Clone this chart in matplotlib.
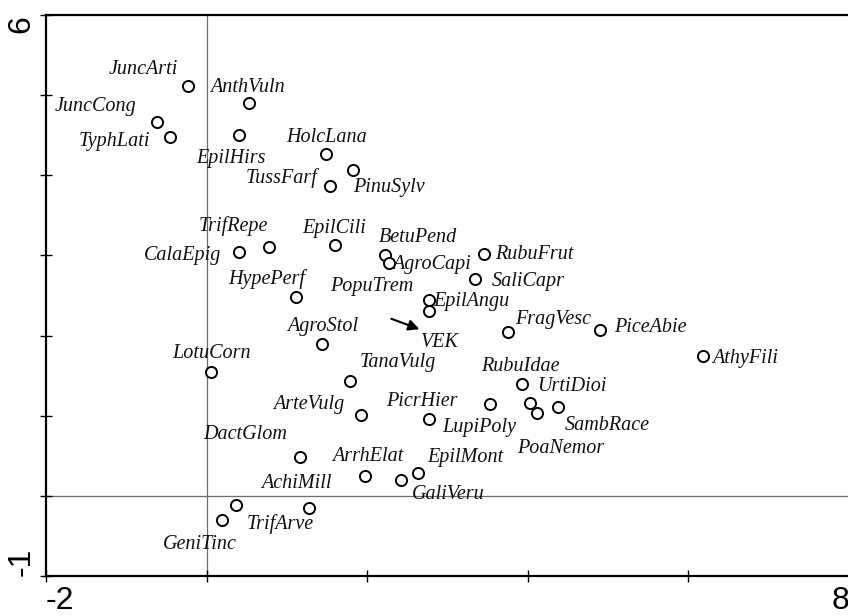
import matplotlib
matplotlib.use("Agg")
import matplotlib.pyplot as plt

# ---- data (species scores) ----
species = ["JuncArti", "AnthVuln", "JuncCong", "TyphLati", "EpilHirs", "HolcLana",
           "PinuSylv", "TussFarf", "TrifRepe", "CalaEpig", "EpilCili", "BetuPend",
           "AgroCapi", "RubuFrut", "SaliCapr", "HypePerf", "PopuTrem", "EpilAngu",
           "FragVesc", "PiceAbie", "AthyFili", "AgroStol", "LotuCorn", "TanaVulg",
           "RubuIdae", "UrtiDioi", "PicrHier", "ArteVulg", "LupiPoly", "SambRace",
           "PoaNemor", "DactGlom", "ArrhElat", "EpilMont", "AchiMill", "GaliVeru",
           "TrifArve", "GeniTinc"]
x_scores = [-0.233, 0.523, -0.619, -0.452, 0.399, 1.482,
            1.822, 1.532, 0.772, 0.399, 1.594, 2.225,
            2.270, 3.450, 3.346, 1.117, 2.768, 2.768,
            3.752, 4.903, 6.181, 1.441, 0.059, 1.781,
            3.932, 4.022, 3.524, 1.918, 2.765, 4.375,
            4.113, 1.158, 1.968, 2.631, 1.270, 2.425,
            0.361, 0.196]
y_scores = [5.12, 4.90, 4.67, 4.48, 4.50, 4.26,
            4.06, 3.87, 3.10, 3.04, 3.13, 3.01,
            2.91, 3.02, 2.71, 2.48, 2.45, 2.31,
            2.04, 2.07, 1.74, 1.90, 1.55, 1.43,
            1.39, 1.16, 1.15, 1.01, 0.96, 1.11,
            1.04, 0.49, 0.25, 0.28, -0.15, 0.20,
            -0.12, -0.30]

# environmental variable arrow
env_name = "VEK"
env_start = (2.30, 2.21)
env_end = (2.65, 2.08)

x_ticks = [-2, 0, 2, 4, 6, 8]
x_ticklabels = ["-2", "", "", "", "", "8"]
y_ticks = [-1, 0, 1, 2, 3, 4, 5, 6]
y_ticklabels = ["-1", "", "", "", "", "", "", "6"]

# ---- label layout (alignment, offset in pixels) ----
label_layout = {
    "JuncArti": ("right", -10, 16), "AnthVuln": ("left", -38, 16),
    "JuncCong": ("right", -20, 15), "TyphLati": ("right", -20, -5),
    "EpilHirs": ("left", -42, -23), "HolcLana": ("center", 1, 17),
    "PinuSylv": ("left", 0, -17), "TussFarf": ("right", -12, 8),
    "TrifRepe": ("center", -35, 21), "CalaEpig": ("right", -17, -3),
    "EpilCili": ("center", 0, 17), "BetuPend": ("left", -6, 17),
    "AgroCapi": ("left", 3, -2), "RubuFrut": ("left", 11, -1),
    "SaliCapr": ("left", 16, -3), "HypePerf": ("center", -30, 18),
    "PopuTrem": ("right", -16, 13), "EpilAngu": ("left", 4, 9),
    "FragVesc": ("left", 7, 13), "PiceAbie": ("left", 14, 2),
    "AthyFili": ("left", 9, -2), "AgroStol": ("center", 0, 17),
    "LotuCorn": ("center", 0, 18), "TanaVulg": ("left", 10, 19),
    "RubuIdae": ("center", -2, 18), "UrtiDioi": ("left", 8, 16),
    "PicrHier": ("right", -32, 2), "ArteVulg": ("right", -16, 10),
    "LupiPoly": ("left", 14, -9), "SambRace": ("left", 7, -19),
    "PoaNemor": ("center", 24, -36), "DactGlom": ("right", -12, 22),
    "ArrhElat": ("center", 3, 19), "EpilMont": ("left", 9, 16),
    "AchiMill": ("center", -12, 24), "GaliVeru": ("left", 11, -15),
    "TrifArve": ("left", 11, -19), "GeniTinc": ("center", -23, -25),
}

W, H = 848, 616
fig = plt.figure(figsize=(W / 100, H / 100), dpi=100)
left, right, top, bottom = 46, 849, 15, 576
ax = fig.add_axes([left / W, (H - bottom) / H, (right - left) / W, (bottom - top) / H])
ax.set_xlim(-2, 8)
ax.set_ylim(-1, 6)

ax.axvline(0, color="#6e6e6e", lw=0.9, zorder=1)
ax.axhline(0, color="#6e6e6e", lw=0.9, zorder=1)

ax.plot(x_scores, y_scores, linestyle="none", marker="o", markersize=8,
        markerfacecolor="white", markeredgecolor="black", markeredgewidth=1.4, zorder=3)

label_font = dict(family="Liberation Serif", style="italic", size=14.5, color="#111111")
for name, xv, yv in zip(species, x_scores, y_scores):
    ha, dx, dy = label_layout[name]
    ax.annotate(name, (xv, yv), xytext=(dx, dy), textcoords="offset pixels",
                ha=ha, va="center", zorder=4, **label_font)

ax.annotate("", xy=env_end, xytext=env_start,
            arrowprops=dict(arrowstyle="-|>", color="black", lw=1.5, mutation_scale=16,
                            shrinkA=0, shrinkB=0), zorder=5)
ax.annotate(env_name, env_end, xytext=(2, -13), textcoords="offset pixels",
            ha="left", va="center", **label_font)

for s in ["left", "bottom", "top"]:
    ax.spines[s].set_linewidth(1.6)
ax.spines["right"].set_visible(False)

ax.set_xticks(x_ticks)
ax.set_xticklabels(x_ticklabels, family="Liberation Sans", size=23)
ax.set_yticks(y_ticks)
ax.set_yticklabels(y_ticklabels, family="Liberation Sans", size=23, rotation=90)
ax.tick_params(direction="inout", length=8, width=1.0, pad=3)
xt = ax.get_xticklabels()
xt[0].set_ha("left")
xt[-1].set_ha("right")
yt = ax.get_yticklabels()
yt[0].set_va("bottom")
yt[-1].set_va("top")
for t in yt:
    t.set_ha("right")

fig.savefig("out.png", dpi=100)
